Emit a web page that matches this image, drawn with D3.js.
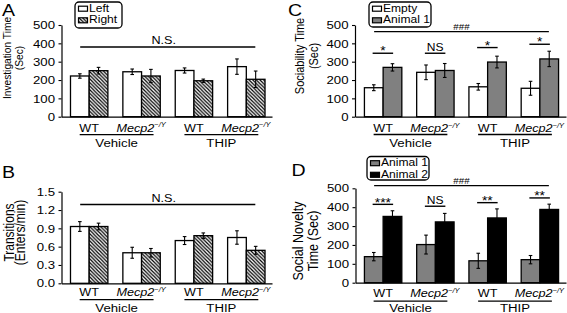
<!DOCTYPE html>
<html><head><meta charset="utf-8">
<script src="https://cdn.jsdelivr.net/npm/d3@7"></script>
<style>body{margin:0;background:#fff}svg{display:block}</style>
</head><body>
<svg id="c" width="567" height="313"></svg>
<script>
// ---------- DATA ----------
const genotypes = ["WT", "Mecp2", "WT", "Mecp2"];
const treatments = ["Vehicle", "THIP"];
const ticksTime = [0, 100, 200, 300, 400, 500];
const ticksTrans = [0, 0.3, 0.6, 0.9, 1.2, 1.5];

// A: Investigation time
const seriesA = ["Left", "Right"];
const invLeft = [222, 245, 252, 273];
const invLeftErr = [12, 15, 14, 42];
const invRight = [251, 222, 196, 204];
const invRightErr = [18, 36, 9, 45];

// B: Transitions
const transLeft = [0.93, 0.50, 0.70, 0.75];
const transLeftErr = [0.08, 0.09, 0.065, 0.11];
const transRight = [0.93, 0.50, 0.78, 0.54];
const transRightErr = [0.055, 0.07, 0.045, 0.065];

// C: Sociability
const seriesC = ["Empty", "Animal 1"];
const socEmpty = [158, 242, 163, 155];
const socEmptyErr = [16, 40, 18, 38];
const socAnimal1 = [269, 252, 298, 315];
const socAnimal1Err = [20, 38, 32, 42];

// D: Social novelty
const seriesD = ["Animal 1", "Animal 2"];
const novAnimal1 = [138, 202, 116, 122];
const novAnimal1Err = [22, 50, 40, 22];
const novAnimal2 = [351, 322, 343, 388];
const novAnimal2Err = [30, 45, 48, 28];

// significance annotations (value = height in data units)
const sigA = [{from: 0, to: 3, value: 380, label: "N.S."}];
const sigB = [{from: 0, to: 3, value: 1.29, label: "N.S."}];
const sigC = [{from: 0, to: 3, value: 464, label: "###"},
              {from: 0, to: 0, value: 346, label: "*"},
              {from: 1, to: 1, value: 346, label: "NS"},
              {from: 2, to: 2, value: 377, label: "*"},
              {from: 3, to: 3, value: 395, label: "*"}];
const sigD = [{from: 0, to: 3, value: 514, label: "###"},
              {from: 0, to: 0, value: 415, label: "***"},
              {from: 1, to: 1, value: 405, label: "NS"},
              {from: 2, to: 2, value: 424, label: "**"},
              {from: 3, to: 3, value: 449, label: "**"}];

// ---------- DRAWING ----------
const SX = 1.15;
const FONT = '"Liberation Sans", Arial, Helvetica, sans-serif';
const svg = d3.select("#c");
const defs = svg.append("defs");
const pat = defs.append("pattern").attr("id", "hatch").attr("patternUnits", "userSpaceOnUse")
  .attr("width", 3.6).attr("height", 3.6);
pat.append("rect").attr("width", 3.6).attr("height", 3.6).attr("fill", "#fff");
pat.append("path").attr("d", "M-1,-1 L4.6,4.6 M-1,2.6 L1,4.6 M2.6,-1 L4.6,1")
  .attr("stroke", "#000").attr("stroke-width", 1.25);

function addText(g, x, y, str, size, opts = {}) {
  const tr = `translate(${x},${y})` + (opts.rotate ? ` rotate(-90) scale(1,${SX})` : ` scale(${SX},1)`);
  const t = g.append("text").attr("transform", tr)
    .attr("font-size", size).attr("font-family", FONT)
    .attr("text-anchor", opts.anchor || "middle").attr("fill", "#000");
  if (opts.italic) t.attr("font-style", "italic");
  if (str != null) t.text(str);
  return t;
}

function panel(cfg) {
  const g = svg.append("g");
  const y = d3.scaleLinear().domain([0, cfg.max]).range([cfg.yZero, cfg.yTop]);
  const x = d3.scaleBand().domain(d3.range(4)).range([cfg.bx0, cfg.bx1]);
  const barW = 18.7;
  const xs = d3.scaleBand().domain([0, 1]).range([-barW, barW]);
  const cx = i => x(i) + x.bandwidth() / 2;

  // y axis
  const ag = g.append("g").attr("transform", `translate(${cfg.ax},0)`)
    .call(d3.axisLeft(y).tickValues(cfg.ticks).tickSize(3).tickSizeOuter(0).tickPadding(3).tickFormat(cfg.fmt));
  ag.select(".domain").attr("stroke", "#000").attr("stroke-width", 1.2);
  ag.selectAll(".tick line").attr("stroke", "#000").attr("stroke-width", 1.1);
  ag.selectAll(".tick text").attr("font-family", FONT).attr("font-size", 11.5).attr("fill", "#000")
    .attr("x", -6.5 / SX).attr("transform", `scale(${SX},1)`);

  // bars
  cfg.series.forEach((s, si) => {
    g.append("g").selectAll("rect").data(s.values).join("rect")
      .attr("x", (d, i) => cx(i) + xs(si))
      .attr("width", xs.bandwidth())
      .attr("y", d => y(d))
      .attr("height", d => y(0) - y(d))
      .attr("fill", s.fill).attr("stroke", "#000").attr("stroke-width", 1.3);
    const eg = g.append("g").attr("stroke", "#000").attr("stroke-width", 1.1);
    s.values.forEach((v, i) => {
      const ex = cx(i) + xs(si) + xs.bandwidth() / 2;
      const e = s.err[i];
      eg.append("line").attr("x1", ex).attr("x2", ex).attr("y1", y(v - e)).attr("y2", y(v + e));
      eg.append("line").attr("x1", ex - 1.8).attr("x2", ex + 1.8).attr("y1", y(v - e)).attr("y2", y(v - e));
      eg.append("line").attr("x1", ex - 1.8).attr("x2", ex + 1.8).attr("y1", y(v + e)).attr("y2", y(v + e));
    });
  });

  // x axis line
  const xl = d3.scaleLinear().domain([0, 1]).range([cfg.ax, cfg.axEnd]);
  const xg = g.append("g").attr("transform", `translate(0,${cfg.yZero})`)
    .call(d3.axisBottom(xl).tickValues([]).tickSizeOuter(0));
  xg.select(".domain").attr("stroke", "#000").attr("stroke-width", 1.2);

  // category labels
  genotypes.forEach((gn, i) => {
    if (gn === "WT") {
      addText(g, cx(i), cfg.yZero + cfg.lab, "WT", 11);
    } else {
      const t = addText(g, cx(i) - 0.5, cfg.yZero + cfg.lab, null, 11, {italic: true});
      t.append("tspan").text("Mecp2");
      t.append("tspan").attr("font-size", 6.5).attr("dy", -4.5).text("\u2212/Y");
    }
  });
  treatments.forEach((tn, k) => {
    const a = cx(2 * k) - 9.5, b = cx(2 * k + 1) + 12;
    g.append("line").attr("x1", a).attr("x2", b)
      .attr("y1", cfg.yZero + cfg.ul).attr("y2", cfg.yZero + cfg.ul)
      .attr("stroke", "#000").attr("stroke-width", 1.3);
    addText(g, (a + b) / 2, cfg.yZero + cfg.tr, tn, 11.5);
  });

  // significance
  cfg.sig.forEach(s => {
    const long = s.from !== s.to;
    const a = long ? cx(s.from) - 9 : cx(s.from) - 10.5;
    const b = long ? cx(s.to) + 9 : cx(s.to) + 10;
    const ly = y(s.value);
    g.append("line").attr("x1", a).attr("x2", b).attr("y1", ly).attr("y2", ly)
      .attr("stroke", "#000").attr("stroke-width", 1.4);
    let size = 11, off = -3, dx = 0;
    if (s.label === "###") { size = 8.5; off = -1.8; }
    else if (s.label === "N.S.") { dx = -4; }
    else if (s.label.startsWith("*")) { size = 12; off = 2.2; }
    else if (s.label === "NS") { size = 10.5; off = -2.3; }
    addText(g, (a + b) / 2 + dx, ly + off, s.label, size);
  });

  // panel letter
  addText(g, cfg.letterX, cfg.letterY, cfg.letter, 17, {anchor: "start"});

  // y title
  cfg.title.forEach((line, k) => {
    addText(g, cfg.titleX[k], cfg.titleY, line, cfg.titleSize, {rotate: true});
  });

  // legend
  if (cfg.legend) {
    const L = cfg.legend;
    g.append("rect").attr("x", L.x).attr("y", L.y).attr("width", L.w).attr("height", L.h)
      .attr("rx", 4).attr("fill", "#fff").attr("stroke", "#000").attr("stroke-width", 1.3);
    cfg.series.forEach((s, si) => {
      const by = L.y + 9.5 + si * 11.6;
      g.append("rect").attr("x", L.x + 3.5).attr("y", by - 5.3).attr("width", 9).attr("height", 5)
        .attr("fill", s.fill).attr("stroke", "#000").attr("stroke-width", 1.2);
      addText(g, L.x + 14, by, s.name, 10.5, {anchor: "start"});
    });
  }
}

const fmt0 = d3.format("d"), fmt1 = d3.format(".1f");

panel({letter: "A", letterX: 2, letterY: 16,
  ax: 61.5, axEnd: 272, bx0: 63, bx1: 272.5, yTop: 25, yZero: 116.7, max: 500,
  ticks: ticksTime, fmt: fmt0, lab: 15, ul: 18, tr: 30,
  series: [{name: seriesA[0], values: invLeft, err: invLeftErr, fill: "#fff"},
           {name: seriesA[1], values: invRight, err: invRightErr, fill: "url(#hatch)"}],
  sig: sigA, title: ["Investigation Time", "(Sec)"], titleX: [10.5, 23], titleY: 58, titleSize: 10.2,
  legend: {x: 75, y: 2, w: 47, h: 26}});

panel({letter: "B", letterX: 2, letterY: 177.5,
  ax: 61.5, axEnd: 272, bx0: 63, bx1: 272.5, yTop: 191.7, yZero: 283.3, max: 1.5,
  ticks: ticksTrans, fmt: fmt1, lab: 13, ul: 16.3, tr: 28.3,
  series: [{name: seriesA[0], values: transLeft, err: transLeftErr, fill: "#fff"},
           {name: seriesA[1], values: transRight, err: transRightErr, fill: "url(#hatch)"}],
  sig: sigB, title: ["Transitions", "(Enters/min)"], titleX: [13.5, 24.5], titleY: 232.5, titleSize: 12,
  legend: null});

panel({letter: "C", letterX: 288, letterY: 16,
  ax: 355, axEnd: 566, bx0: 357, bx1: 566, yTop: 25, yZero: 116.7, max: 500,
  ticks: ticksTime, fmt: fmt0, lab: 15.3, ul: 17.8, tr: 30.5,
  series: [{name: seriesC[0], values: socEmpty, err: socEmptyErr, fill: "#fff"},
           {name: seriesC[1], values: socAnimal1, err: socAnimal1Err, fill: "#808080"}],
  sig: sigC, title: ["Sociability Time", "(Sec)"], titleX: [303.5, 317.5], titleY: 56, titleSize: 11,
  legend: {x: 369, y: 2, w: 62, h: 25}});

panel({letter: "D", letterX: 291.5, letterY: 176,
  ax: 355.5, axEnd: 566, bx0: 357, bx1: 566, yTop: 188.3, yZero: 282.7, max: 500,
  ticks: ticksTime, fmt: fmt0, lab: 14.5, ul: 18.5, tr: 29,
  series: [{name: seriesD[0], values: novAnimal1, err: novAnimal1Err, fill: "#808080"},
           {name: seriesD[1], values: novAnimal2, err: novAnimal2Err, fill: "#000"}],
  sig: sigD, title: ["Social Novelty", "Time (Sec)"], titleX: [303, 317.5], titleY: 241, titleSize: 12.5,
  legend: {x: 367, y: 156.5, w: 62, h: 23.5}});
</script>
</body></html>
